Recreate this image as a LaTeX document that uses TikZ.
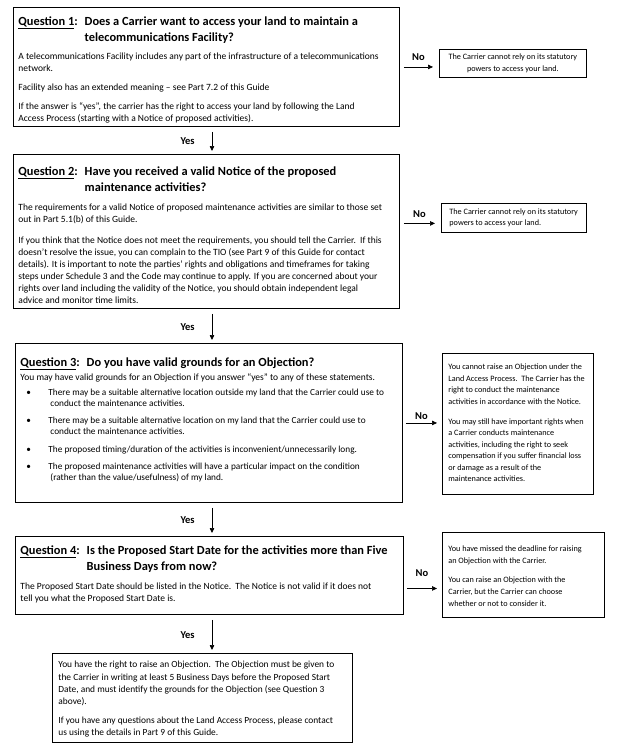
\documentclass[tikz,border=0pt]{standalone}
\usepackage{fontspec}
\setmainfont{Carlito}
\usetikzlibrary{positioning}
\usetikzlibrary{arrows.meta}

\newcommand{\qbody}[1]{\fontsize{9.5}{12}\selectfont\setlength{\parskip}{#1}}
\newcommand{\rbody}{\fontsize{8.2}{11.5}\selectfont\setlength{\parskip}{8.5pt}}
\newcommand{\qfont}{\fontsize{12.4}{15.5}\selectfont\bfseries}
\newlength{\qlabw}
% question heading, second line hangs under the question text
\newcommand{\qtitle}[3][-1pt]{{\qfont\settowidth{\qlabw}{\underline{Question #2}:\hspace{7pt}}%
  \hangindent\qlabw\hangafter1\noindent\underline{Question #2}:\hspace{7pt}#3\par}\vspace{#1}}
% text width, height, top gap, contents
\newcommand{\boxtext}[4]{\parbox[t][#2pt][t]{#1pt}{\raggedright\vspace*{#3pt}#4}}
\newcommand{\bul}{\par\hangindent30pt\hangafter1\noindent\hspace*{6pt}\makebox[22pt][l]{\textbullet}}

\tikzset{
  qbox/.style={draw, line width=0.9pt, anchor=north west, inner xsep=5pt, inner ysep=0pt},
  rbox/.style={draw, line width=0.8pt, anchor=north west, inner xsep=6pt, inner ysep=0pt},
  flow/.style={line width=0.7pt, -{Triangle[length=5pt,width=4.5pt]}},
  lbl/.style={font=\fontsize{10.5}{12}\selectfont\bfseries, inner sep=1pt},
}

\begin{document}
\begin{tikzpicture}[x=1pt, y=-1pt]
    \useasboundingbox (0,0) rectangle (626,753);

    % Question 1
    \node[qbox] (q1) at (13,7) {\boxtext{376}{119}{2.5}{\qbody{7pt}
        \qtitle{1}{Does a Carrier want to access your land to maintain a\newline telecommunications Facility?}
        A telecommunications Facility includes any part of the infrastructure of a telecommunications\newline network.\par
        Facility also has an extended meaning -- see Part 7.2 of this Guide\par
        If the answer is “yes”, the carrier has the right to access your land by following the Land\newline Access Process (starting with a Notice of proposed activities).}};
    \node[rbox, minimum width=147pt, minimum height=28pt, align=center, font=\rbody]
        (r1) at (439,49) {The Carrier cannot rely on its statutory\\powers to access your land.};

    % Question 2
    \node[qbox] (q2) at (13,154) {\boxtext{376}{154}{3.5}{\qbody{9pt}
        \qtitle[-2pt]{2}{Have you received a valid Notice of the proposed\newline maintenance activities?}
        The requirements for a valid Notice of proposed maintenance activities are similar to those set\newline out in Part 5.1(b) of this Guide.\par
        If you think that the Notice does not meet the requirements, you should tell the Carrier.\ \ If this\newline
        doesn’t resolve the issue, you can complain to the TIO (see Part 9 of this Guide for contact\newline
        details). It is important to note the parties’ rights and obligations and timeframes for taking\newline
        steps under Schedule 3 and the Code may continue to apply. If you are concerned about your\newline
        rights over land including the validity of the Notice, you should obtain independent legal\newline
        advice and monitor time limits.}};
    \node[rbox, minimum width=144pt, minimum height=29pt, inner xsep=8pt, align=left, font=\rbody]
        (r2) at (441,203) {The Carrier cannot rely on its statutory\\powers to access your land.};

    % Question 3
    \node[qbox] (q3) at (15,343) {\boxtext{377}{159}{7.5}{\qbody{6.5pt}
        \qtitle[-4pt]{3}{Do you have valid grounds for an Objection?}
        You may have valid grounds for an Objection if you answer “yes” to any of these statements.\par
        \vspace{-3pt}\fontsize{9.3}{11}\selectfont
        \bul There may be a suitable alternative location outside my land that the Carrier could use to\newline conduct the maintenance activities.
        \bul There may be a suitable alternative location on my land that the Carrier could use to\newline conduct the maintenance activities.
        \bul The proposed timing/duration of the activities is inconvenient/unnecessarily long.
        \bul The proposed maintenance activities will have a particular impact on the condition\newline (rather than the value/usefulness) of my land.}};
    \node[rbox] (r3) at (442,353) {\boxtext{139}{141}{2}{\rbody
        You cannot raise an Objection under the\newline Land Access Process.\ \ The Carrier has the\newline
        right to conduct the maintenance\newline activities in accordance with the Notice.\par
        You may still have important rights when\newline a Carrier conducts maintenance\newline
        activities, including the right to seek\newline compensation if you suffer financial loss\newline
        or damage as a result of the\newline maintenance activities.}};

    % Question 4
    \node[qbox] (q4) at (15,536) {\boxtext{378}{78}{2.5}{\qbody{7pt}
        \qtitle[0pt]{4}{Is the Proposed Start Date for the activities more than Five\newline Business Days from now?}
        The Proposed Start Date should be listed in the Notice.\ \ The Notice is not valid if it does not\newline
        tell you what the Proposed Start Date is.}};
    \node[rbox] (r4) at (442,532) {\boxtext{150}{85}{6}{\rbody\fontsize{8.2}{12}\selectfont\setlength{\parskip}{7pt}
        You have missed the deadline for raising\newline an Objection with the Carrier.\par
        You can raise an Objection with the\newline Carrier, but the Carrier can choose\newline
        whether or not to consider it.}};

    % Outcome
    \node[rbox] (fin) at (52,653) {\boxtext{288}{89}{2}{\fontsize{9.4}{12.3}\selectfont\setlength{\parskip}{6pt}
        You have the right to raise an Objection.\ \ The Objection must be given to\newline
        the Carrier in writing at least 5 Business Days before the Proposed Start\newline
        Date, and must identify the grounds for the Objection (see Question 3\newline above).\par
        If you have any questions about the Land Access Process, please contact\newline
        us using the details in Part 9 of this Guide.}};

    % Yes arrows
    \coordinate (ax) at (212,0);
    \foreach \a/\b/\n in {q1/q2/y1, q2/q3/y2, q3/q4/y3, q4/fin/y4} {
        \draw[flow] ([yshift=-5pt]\a.south -| ax) -- ([yshift=3pt]\b.north -| ax)
            node[lbl, midway, left=16pt] (\n) {Yes};
    }

    % No arrows
    \draw[flow] ([xshift=4pt]q1.east) -- ([xshift=-6pt]q1.east -| r1.west)
        node[lbl, midway, above=5pt] (n1) {No};
    \coordinate (c2) at ([yshift=-5.5pt]r2.west);
    \draw[flow] ([xshift=4pt]q2.east |- c2) -- ([xshift=-6pt]c2)
        node[lbl, midway, above=4pt] (n2) {No};
    \draw[flow] ([xshift=3pt]q3.east) -- ([xshift=-5pt]q3.east -| r3.west)
        node[lbl, midway, above=2pt] (n3) {No};
    \draw[flow] ([xshift=3pt,yshift=-13pt]q4.east) -- ([xshift=-5pt,yshift=-13pt]q4.east -| r4.west)
        node[lbl, midway, above=11pt] (n4) {No};
\end{tikzpicture}
\end{document}
